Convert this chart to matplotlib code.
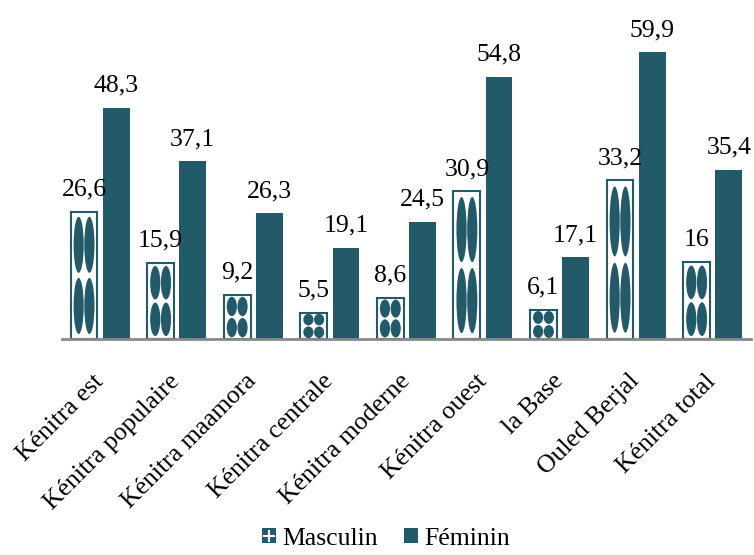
import numpy as np
import matplotlib
matplotlib.use("Agg")
import matplotlib.pyplot as plt
from matplotlib.patches import Ellipse, Patch
from matplotlib.lines import Line2D

plt.rcParams['font.family'] = 'Liberation Serif'

quartiers = ['Kénitra est', 'Kénitra populaire', 'Kénitra maamora', 'Kénitra centrale',
             'Kénitra moderne', 'Kénitra ouest', 'la Base', 'Ouled Berjal', 'Kénitra total']
masculin = [26.6, 15.9, 9.2, 5.5, 8.6, 30.9, 6.1, 33.2, 16]
feminin = [48.3, 37.1, 26.3, 19.1, 24.5, 54.8, 17.1, 59.9, 35.4]

teal = '#235a69'
fs = 18.5

fig = plt.figure(figsize=(7.54, 5.55), dpi=100)
ax = fig.add_axes([0.082, 0.389, 0.914, 0.561])

x = np.arange(len(quartiers))
w = 0.35
off = 0.21

bars_m = ax.bar(x - off, masculin, w, facecolor='white', edgecolor=teal, linewidth=1.5, zorder=2)
bars_f = ax.bar(x + off, feminin, w, color=teal, zorder=2)

# motif d'ellipses dans les barres masculines (2 x 2)
for r in bars_m:
    bx, bw, bh = r.get_x(), r.get_width(), r.get_height()
    for fx in (0.3, 0.7):
        for fy in (0.26, 0.74):
            e = Ellipse((bx + fx * bw, fy * bh), 0.38 * bw, 0.44 * bh,
                        facecolor=teal, edgecolor='none', zorder=3)
            ax.add_patch(e)

for r, v in zip(bars_m, masculin):
    ax.annotate(f"{v:g}".replace('.', ','), (r.get_x() + r.get_width() / 2, v),
                xytext=(0, 8), textcoords='offset points', ha='center', va='bottom', fontsize=fs)
for r, v in zip(bars_f, feminin):
    ax.annotate(f"{v:g}".replace('.', ','), (r.get_x() + r.get_width() / 2, v),
                xytext=(0, 8), textcoords='offset points', ha='center', va='bottom', fontsize=fs)

ax.set_xlim(-0.5, 8.5)
ax.set_ylim(0, 65)
ax.set_yticks([])
ax.set_xticks(x)
ax.set_xticklabels(quartiers, rotation=45, ha='right', va='center', rotation_mode='anchor', fontsize=fs)
ax.tick_params(axis='x', length=0, pad=28)
for s in ['top', 'right', 'left']:
    ax.spines[s].set_visible(False)
ax.spines['bottom'].set_color('#898989')
ax.spines['bottom'].set_linewidth(2)

h_m = (Patch(facecolor=teal), Line2D([], [], marker='+', color='white', linestyle='none',
                                      markersize=8, markeredgewidth=1.5))
h_f = Patch(facecolor=teal)
fig.legend([h_m, h_f], ['Masculin', 'Féminin'], loc='lower center', bbox_to_anchor=(0.512, -0.032),
           ncol=2, frameon=False, fontsize=fs, handlelength=0.55, handleheight=0.55,
           handletextpad=0.25, columnspacing=1.0)

fig.savefig('out.png', dpi=100)
